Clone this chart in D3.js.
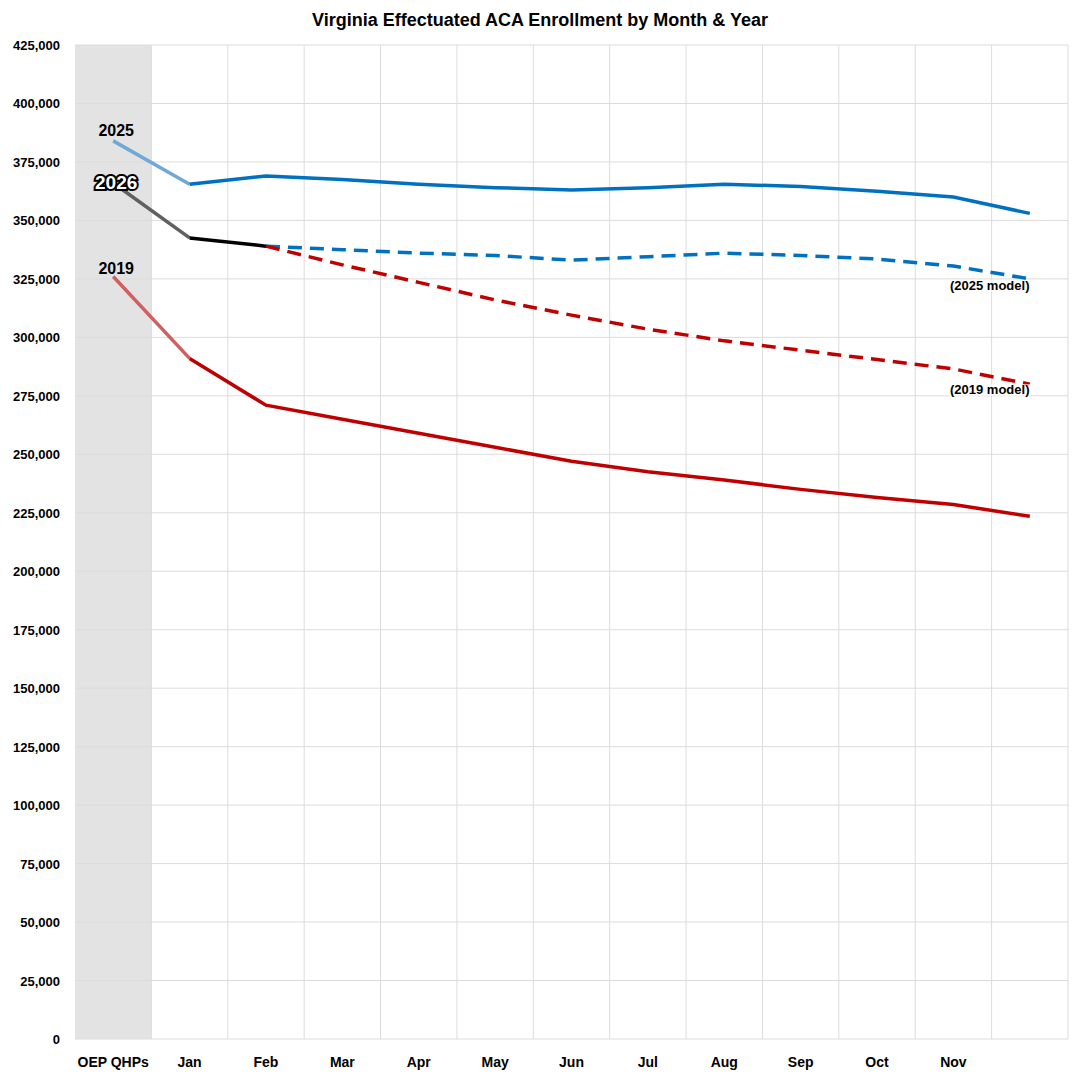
<!DOCTYPE html><html><head><meta charset="utf-8"><script src="https://cdn.jsdelivr.net/npm/d3@7"></script>
<style>body{margin:0;background:#fff}text{font-family:Arial,"Liberation Sans",sans-serif}</style></head><body><svg id="c" width="1081" height="1080"></svg>
<script>
const categories=["OEP QHPs","Jan","Feb","Mar","Apr","May","Jun","Jul","Aug","Sep","Oct","Nov","Dec"];
const tickLabels=["OEP QHPs","Jan","Feb","Mar","Apr","May","Jun","Jul","Aug","Sep","Oct","Nov",""];
const s2025=[384000,365500,369000,367500,365500,364000,363000,364000,365500,364500,362500,360000,353000];
const s2026=[366000,342500,339000];
const s2019=[326000,291000,271000,265000,259000,253000,247000,242500,239000,235000,231500,228500,223500];
const m2025=[null,null,339000,337500,336000,335000,333000,334500,336000,335000,333500,330500,325000];
const m2019=[null,null,339000,331000,323500,316000,309500,303500,298500,294500,290500,286500,280000];
const yTicks=d3.range(0,425001,25000);
const svg=d3.select("#c");
const x=d3.scaleBand().domain(categories).range([75,1068]);
const y=d3.scaleLinear().domain([0,425000]).range([1039,45]);
const cx=c=>x(c)+x.bandwidth()/2;
svg.append("rect").attr("x",x("OEP QHPs")).attr("y",y(425000)).attr("width",x.bandwidth()).attr("height",y(0)-y(425000)).attr("fill","#e3e3e3");
svg.selectAll(".hg").data(yTicks).join("line").attr("x1",75).attr("x2",1068).attr("y1",d=>y(d)).attr("y2",d=>y(d)).attr("stroke","#dcdcdc");
svg.selectAll(".vg").data(categories.slice(1)).join("line").attr("x1",d=>x(d)).attr("x2",d=>x(d)).attr("y1",y(425000)).attr("y2",y(0)).attr("stroke","#dcdcdc");
svg.append("line").attr("x1",1068).attr("x2",1068).attr("y1",y(425000)).attr("y2",y(0)).attr("stroke","#dcdcdc");
svg.selectAll(".yl").data(yTicks).join("text").attr("x",60).attr("y",d=>y(d)+5).attr("text-anchor","end").attr("font-size",13).attr("font-weight","bold").text(d=>d3.format(",")(d));
svg.selectAll(".xl").data(tickLabels).join("text").attr("x",(d,i)=>cx(categories[i])).attr("y",1067).attr("text-anchor","middle").attr("font-size",14).attr("font-weight","bold").text(d=>d);
svg.append("text").attr("x",540).attr("y",26).attr("text-anchor","middle").attr("font-size",18).attr("font-weight","bold").text("Virginia Effectuated ACA Enrollment by Month & Year");
const line=d3.line().defined(d=>d.v!=null).x(d=>cx(d.c)).y(d=>y(d.v));
function draw(arr,color,dash,fade){
  const pts=arr.map((v,i)=>({c:categories[i],v}));
  if(fade){svg.append("path").attr("d",line(pts.slice(0,2))).attr("fill","none").attr("stroke",fade).attr("stroke-width",3.5);
    svg.append("path").attr("d",line(pts.slice(1))).attr("fill","none").attr("stroke",color).attr("stroke-width",3.5);}
  else svg.append("path").attr("d",line(pts)).attr("fill","none").attr("stroke",color).attr("stroke-width",3.5).attr("stroke-dasharray",dash);
}
draw(m2025,"#0070c0","14,8");
draw(m2019,"#c00000","14,8");
draw(s2019,"#c00000",null,"#d06060");
draw(s2025,"#0070c0",null,"#70a8d8");
draw(s2026,"#000",null,"#606060");
function lab(t,yy,halo){const e=svg.append("text").attr("x",cx("OEP QHPs")+3).attr("y",y(yy)).attr("text-anchor","middle").attr("font-size",halo?19:16).attr("font-weight","bold").text(t);
 if(halo)e.attr("fill","#fff").attr("stroke","#000").attr("stroke-width",4).attr("paint-order","stroke");}
lab("2025",384000+2000);lab("2026",363500,true);lab("2019",325000+2000);
function mlab(t,v){const xx=950;const g=svg.append("g");
 const tx=g.append("text").attr("x",xx).attr("y",y(v)+4).attr("font-size",13).attr("font-weight","bold").text(t);
 const b=tx.node().getBBox();g.insert("rect","text").attr("x",b.x-1).attr("y",b.y+2).attr("width",b.width+2).attr("height",b.height-3).attr("fill","#fff").attr("opacity",0.6);}
mlab("(2025 model)",322000);mlab("(2019 model)",277500);
</script></body></html>
